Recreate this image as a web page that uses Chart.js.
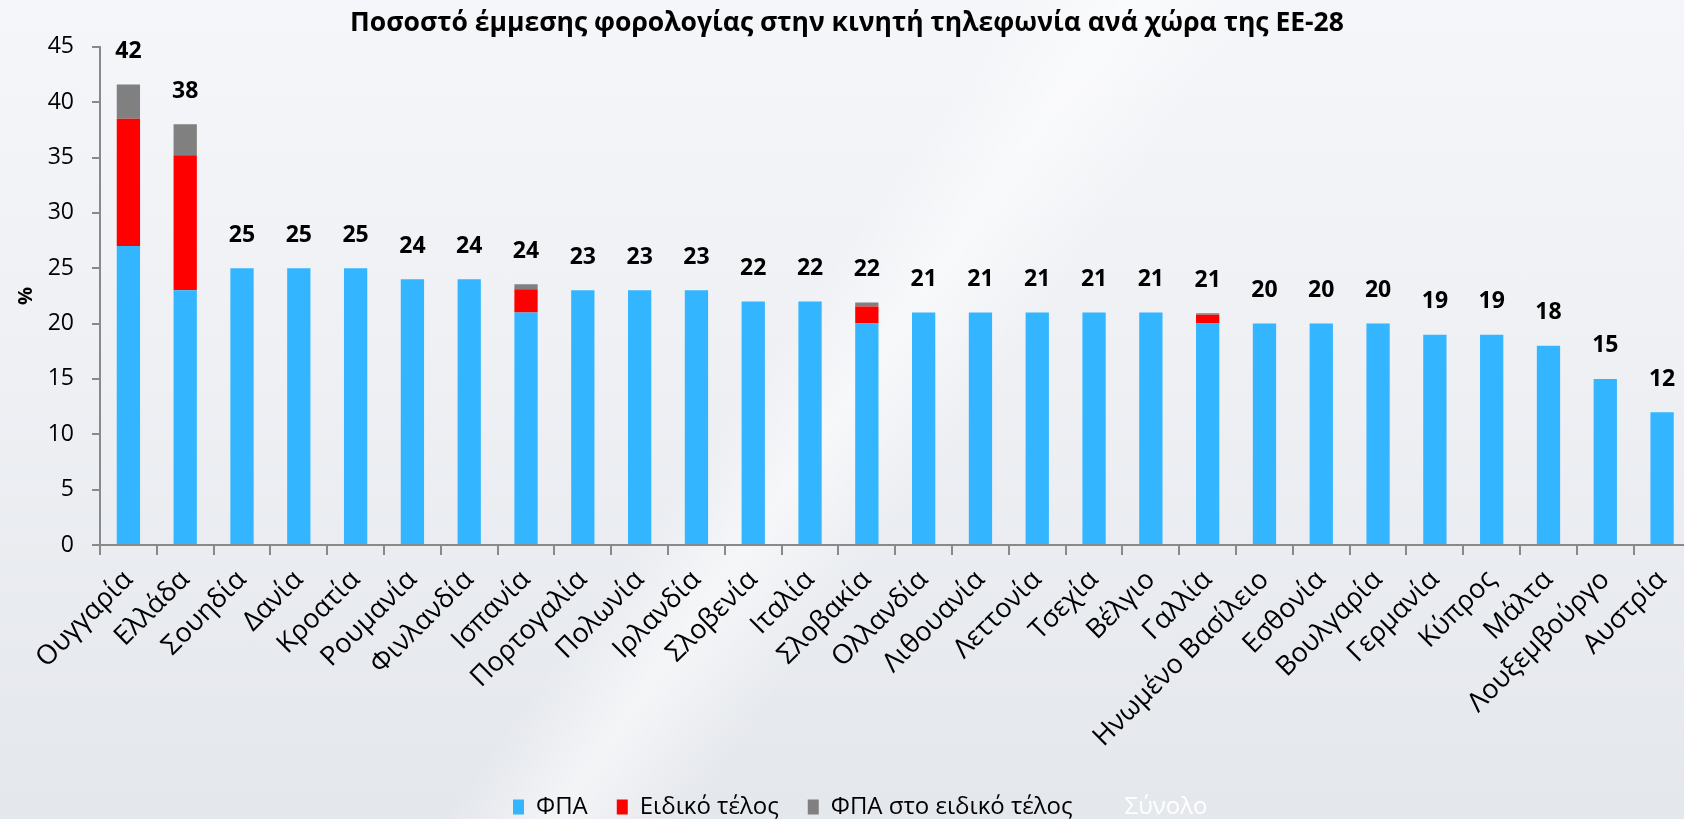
<!DOCTYPE html>
<html>
<head>
<meta charset="utf-8">
<script src="https://cdn.jsdelivr.net/npm/chart.js@4.4.0/dist/chart.umd.min.js"></script>
<style>
  html, body { margin: 0; padding: 0; overflow: hidden; }
  body {
    width: 1684px; height: 819px;
    background:
      linear-gradient(125deg, rgba(255,255,255,0) 0%, rgba(255,255,255,0) 45%, rgba(255,255,255,0.55) 50%, rgba(255,255,255,0) 56%),
      linear-gradient(180deg, #f5f6f9 0%, #eef0f4 45%, #e4e7ec 100%);
  }
  #wrap { width: 1694px; height: 819px; }
</style>
</head>
<body>
<div id="wrap"><canvas id="bar_chart" width="1694" height="819"></canvas></div>
<script>
// data
var countries = ["Ουγγαρία", "Ελλάδα", "Σουηδία", "Δανία", "Κροατία", "Ρουμανία", "Φινλανδία", "Ισπανία",
    "Πορτογαλία", "Πολωνία", "Ιρλανδία", "Σλοβενία", "Ιταλία", "Σλοβακία", "Ολλανδία", "Λιθουανία",
    "Λεττονία", "Τσεχία", "Βέλγιο", "Γαλλία", "Ηνωμένο Βασίλειο", "Εσθονία", "Βουλγαρία", "Γερμανία",
    "Κύπρος", "Μάλτα", "Λουξεμβούργο", "Αυστρία"];
var vat = [27, 23, 25, 25, 25, 24, 24, 21, 23, 23, 23, 22, 22, 20, 21, 21, 21, 21, 21, 20, 20, 20, 20, 19, 19, 18, 15, 12];
var specialFee = [11.5, 12.2, 0, 0, 0, 0, 0, 2.1, 0, 0, 0, 0, 0, 1.55, 0, 0, 0, 0, 0, 0.8, 0, 0, 0, 0, 0, 0, 0, 0];
var vatOnFee = [3.1, 2.8, 0, 0, 0, 0, 0, 0.45, 0, 0, 0, 0, 0, 0.35, 0, 0, 0, 0, 0, 0.13, 0, 0, 0, 0, 0, 0, 0, 0];
var totals = [42, 38, 25, 25, 25, 24, 24, 24, 23, 23, 23, 22, 22, 22, 21, 21, 21, 21, 21, 21, 20, 20, 20, 19, 19, 18, 15, 12];
var yTicks = [0, 5, 10, 15, 20, 25, 30, 35, 40, 45];

var axisGray = "#898989";
var fontName = "'Open Sans', sans-serif";

// numbers above each stack, taken from the "Σύνολο" dataset
var totalLabels = {
    id: "totalLabels",
    afterDatasetsDraw: function(chart) {
        var ctx = chart.ctx;
        ctx.save();
        ctx.font = "bold 23px " + fontName;
        ctx.fillStyle = "#000";
        ctx.textAlign = "center";
        ctx.textBaseline = "middle";
        for (var i = 0; i < totals.length; i++) {
            var top = null, x = null;
            for (var d = 0; d < 3; d++) {
                var el = chart.getDatasetMeta(d).data[i];
                if (chart.data.datasets[d].data[i] > 0) {
                    if (top === null || el.y < top) top = el.y;
                    x = el.x;
                }
            }
            ctx.fillText(chart.data.datasets[3].data[i], x, top - 33);
        }
        ctx.restore();
    }
};

// legend is not centred in the original, it sits left of the middle and low
var legendShift = {
    id: "legendShift",
    afterLayout: function(chart) {
        chart.legend.left = 484;
        chart.legend.top = chart.legend.top + 10;
        chart.scales.x.bottom = chart.height; // don't cut the long labels
    }
};

var ctx = document.getElementById("bar_chart").getContext("2d");
var myChart = new Chart(ctx, {
    type: "bar",
    data: {
        labels: countries,
        datasets: [{
            label: "ΦΠΑ",
            backgroundColor: "#33B6FF",
            data: vat,
            stack: "a"
        }, {
            label: "Ειδικό τέλος",
            backgroundColor: "#FF0000",
            data: specialFee,
            stack: "a"
        }, {
            label: "ΦΠΑ στο ειδικό τέλος",
            backgroundColor: "#808080",
            data: vatOnFee,
            stack: "a"
        }, {
            type: "line",
            label: "Σύνολο",
            data: totals,
            stack: "b",
            showLine: false,
            pointRadius: 0,
            borderWidth: 0,
            borderColor: "rgba(0,0,0,0)",
            backgroundColor: "rgba(0,0,0,0)"
        }]
    },
    options: {
        responsive: false,
        animation: false,
        layout: { padding: 0 },
        datasets: {
            bar: { barPercentage: 0.41, categoryPercentage: 1 }
        },
        scales: {
            x: {
                stacked: true,
                grid: { drawOnChartArea: false, drawTicks: true, tickLength: 10, color: axisGray, lineWidth: 2, offset: true },
                border: { color: axisGray, width: 2 },
                ticks: { color: "#000", font: { family: fontName, size: 27 }, maxRotation: 45, minRotation: 45, autoSkip: false, padding: 9 },
                afterFit: function(s) {
                    s.height = 819 - 545 - s.chart.legend.height;
                }
            },
            y: {
                stacked: true,
                min: 0,
                max: 45,
                afterBuildTicks: function(s) {
                    s.ticks = yTicks.map(function(v) { return { value: v }; });
                },
                grid: { drawOnChartArea: false, drawTicks: true, tickLength: 8, color: axisGray, lineWidth: 2 },
                border: { color: axisGray, width: 2 },
                ticks: { color: "#000", font: { family: fontName, size: 23 }, padding: 18 },
                title: { display: true, text: "%", color: "#000", font: { family: fontName, size: 20, weight: "bold" }, padding: { top: 14 } },
                afterFit: function(s) { s.width = 100; }
            }
        },
        plugins: {
            title: {
                display: true,
                text: "Ποσοστό έμμεσης φορολογίας στην κινητή τηλεφωνία ανά χώρα της ΕΕ-28",
                color: "#000",
                font: { family: fontName, size: 26.5, weight: "bold" },
                padding: { top: 8, bottom: 7 }
            },
            legend: {
                position: "bottom",
                align: "start",
                labels: {
                    color: "#000",
                    font: { family: fontName, size: 24 },
                    boxWidth: 11,
                    boxHeight: 15,
                    padding: 29,
                    generateLabels: function(chart) {
                        var items = Chart.defaults.plugins.legend.labels.generateLabels(chart);
                        items.forEach(function(it) {
                            it.lineWidth = 0;
                            if (it.datasetIndex === 3) it.fontColor = "#ffffff";
                        });
                        return items;
                    }
                }
            },
            tooltip: { enabled: false }
        }
    },
    plugins: [totalLabels, legendShift]
});
</script>
</body>
</html>
